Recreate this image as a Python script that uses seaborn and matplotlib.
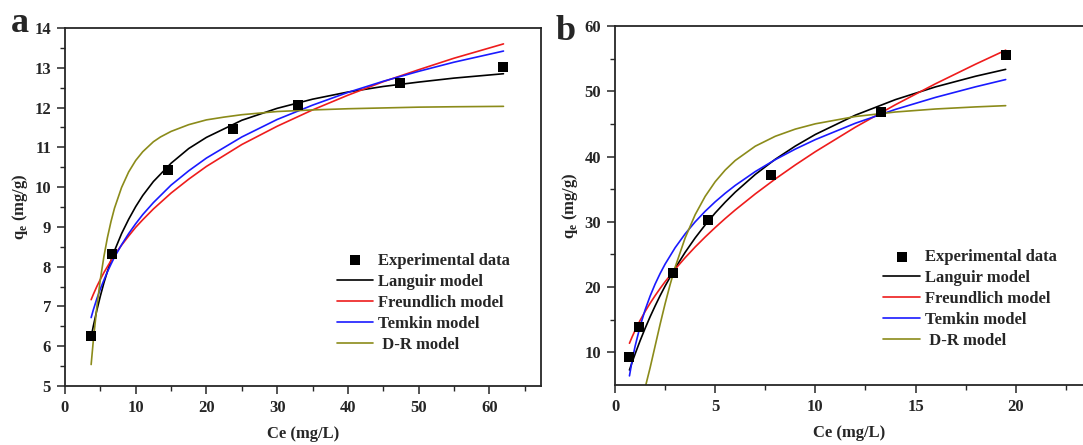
import numpy as np
import matplotlib
matplotlib.use("Agg")
import matplotlib.pyplot as plt
import seaborn as sns

# ---- panel a data ----
a_exp_x = [3.65, 6.65, 14.6, 23.7, 33.0, 47.3, 62.0]
a_exp_y = [6.25, 8.32, 10.42, 11.45, 12.06, 12.61, 13.02]

a_fit_x = [3.7, 4.0, 4.5, 5.0, 5.5, 6.0, 6.5, 7, 8, 9, 10, 11, 12.5, 15, 17.5, 20,
           25, 30, 35, 40, 45, 50, 55, 62]
a_langmuir = [6.23, 6.50, 6.90, 7.26, 7.59, 7.88, 8.15, 8.40, 8.83, 9.19, 9.51, 9.79,
              10.14, 10.60, 10.97, 11.25, 11.68, 11.98, 12.21, 12.39, 12.53, 12.64,
              12.74, 12.85]
a_freundlich = [7.17, 7.30, 7.50, 7.68, 7.85, 8.00, 8.15, 8.29, 8.54, 8.77, 8.99, 9.18,
                9.45, 9.85, 10.20, 10.52, 11.07, 11.53, 11.94, 12.31, 12.65, 12.95,
                13.24, 13.60]
a_temkin = [6.72, 6.91, 7.19, 7.44, 7.66, 7.87, 8.06, 8.24, 8.55, 8.83, 9.08, 9.31,
            9.61, 10.05, 10.41, 10.73, 11.26, 11.70, 12.06, 12.38, 12.66, 12.91,
            13.14, 13.42]
a_dr_x = [3.7, 4.0, 4.5, 5.0, 5.5, 6.0, 6.5, 7, 8, 9, 10, 11, 12.5, 13.5, 15, 17.5,
          20, 22.5, 25, 30, 35, 40, 45, 50, 55, 62]
a_dr = [5.54, 6.13, 6.98, 7.68, 8.25, 8.73, 9.13, 9.47, 9.99, 10.38, 10.67, 10.89,
        11.14, 11.26, 11.40, 11.57, 11.69, 11.76, 11.82, 11.90, 11.94, 11.97, 11.99,
        12.01, 12.02, 12.03]

# ---- panel b data ----
b_exp_x = [0.72, 1.18, 2.88, 4.66, 7.8, 13.3, 19.5]
b_exp_y = [9.35, 13.9, 22.1, 30.3, 37.2, 46.8, 55.5]

b_fit_x = [0.72, 0.85, 1.0, 1.25, 1.5, 1.75, 2, 2.25, 2.5, 3, 3.5, 4, 4.5, 5, 5.5, 6,
           7, 8, 9, 10, 12, 14, 16, 18, 19.5]
b_langmuir = [7.30, 8.46, 9.74, 11.77, 13.67, 15.45, 17.11, 18.69, 20.17, 22.89, 25.33,
              27.54, 29.53, 31.36, 33.02, 34.55, 37.26, 39.59, 41.61, 43.39, 46.35,
              48.73, 50.68, 52.31, 53.36]
b_freundlich = [11.40, 12.35, 13.37, 14.89, 16.26, 17.52, 18.69, 19.79, 20.83, 22.75,
                24.51, 26.15, 27.68, 29.13, 30.51, 31.82, 34.28, 36.57, 38.72, 40.75,
                44.51, 47.95, 51.16, 54.16, 56.30]
b_temkin = [6.40, 8.68, 10.92, 13.99, 16.50, 18.62, 20.46, 22.08, 23.53, 26.04, 28.16,
            30.00, 31.62, 33.07, 34.38, 35.58, 37.70, 39.53, 41.15, 42.60, 45.11,
            47.23, 49.07, 50.69, 51.80]
b_dr_x = [1.4, 1.5, 1.75, 2, 2.25, 2.5, 2.75, 3, 3.5, 4, 4.5, 5, 5.5, 6, 7, 8, 9, 10,
          12, 14, 16, 18, 19.5]
b_dr = [3.49, 4.56, 7.63, 10.97, 14.31, 17.47, 20.39, 23.05, 27.54, 31.10, 33.91,
        36.15, 37.94, 39.40, 41.59, 43.11, 44.21, 45.02, 46.14, 46.83, 47.29, 47.61,
        47.80]

labels = ["Experimental data", "Languir model", "Freundlich model", "Temkin model", " D-R model"]
colors = ["black", "#ee1c1c", "#1a1aff", "#8b8b1a"]

sns.set_style("ticks")
plt.rcParams["font.family"] = ["Liberation Serif", "DejaVu Serif"]
plt.rcParams["font.weight"] = "bold"
plt.rcParams["mathtext.fontset"] = "custom"
plt.rcParams["mathtext.rm"] = "Liberation Serif:bold"
plt.rcParams["axes.linewidth"] = 1.3
plt.rcParams["lines.solid_joinstyle"] = "round"

fig = plt.figure(figsize=(10.83, 4.45), dpi=100)
ax_a = fig.add_axes([0.0600, 0.1326, 0.4395, 0.8045])
ax_b = fig.add_axes([0.5679, 0.1348, 0.4321, 0.8067])


def draw_panel(ax, ex, ey, fx, curves, drx, dr, leg_pos):
    sns.scatterplot(x=ex, y=ey, ax=ax, marker="s", s=48, color="black",
                    edgecolor="black", linewidth=0, label=labels[0], zorder=5)
    for i, yy in enumerate(curves):
        sns.lineplot(x=fx, y=yy, ax=ax, color=colors[i], lw=1.2,
                     label=labels[i + 1], sort=False, estimator=None)
    sns.lineplot(x=drx, y=dr, ax=ax, color=colors[3], lw=1.2,
                 label=labels[4], sort=False, estimator=None)
    ax.legend(loc="upper left", bbox_to_anchor=leg_pos, frameon=False,
              handlelength=2.2, handletextpad=0.3,
              labelspacing=0.3, borderpad=0, borderaxespad=0,
              prop={"weight": "bold", "size": 12})
    ax.set_xlabel("Ce (mg/L)", fontsize=12, fontweight="bold", labelpad=7)
    ax.set_ylabel(r"q$_\mathregular{e}$ (mg/g)", fontsize=12, fontweight="bold", labelpad=3)
    ax.tick_params(axis="both", which="major", direction="out", length=6, width=1.1,
                   labelsize=12, pad=4)
    ax.tick_params(axis="both", which="minor", direction="out", length=3.5, width=1.0)


draw_panel(ax_a, a_exp_x, a_exp_y, a_fit_x, [a_langmuir, a_freundlich, a_temkin],
           a_dr_x, a_dr, (0.571, 0.372))
ax_a.set_xlim(0, 67.3)
ax_a.set_ylim(5, 14)
ax_a.set_xticks([0, 10, 20, 30, 40, 50, 60])
ax_a.set_xticks(np.arange(5, 67, 10), minor=True)
ax_a.set_yticks(range(5, 15))
ax_a.set_yticks(np.arange(5.5, 14, 1), minor=True)

draw_panel(ax_b, b_exp_x, b_exp_y, b_fit_x, [b_langmuir, b_freundlich, b_temkin],
           b_dr_x, b_dr, (0.573, 0.379))
ax_b.set_xlim(0, 23.36)
ax_b.set_ylim(5, 60)
ax_b.set_xticks([0, 5, 10, 15, 20])
ax_b.set_xticks([2.5, 7.5, 12.5, 17.5, 22.5], minor=True)
ax_b.set_yticks([10, 20, 30, 40, 50, 60])
ax_b.set_yticks([15, 25, 35, 45, 55], minor=True)
ax_b.spines["right"].set_visible(False)

for ax in (ax_a, ax_b):
    for t in ax.get_xticklabels() + ax.get_yticklabels():
        t.set_fontweight("bold")

fig.text(0.010, 0.928, "a", fontsize=26, fontweight="bold")
fig.text(0.513, 0.910, "b", fontsize=26, fontweight="bold")

fig.savefig("out.png", dpi=100)
